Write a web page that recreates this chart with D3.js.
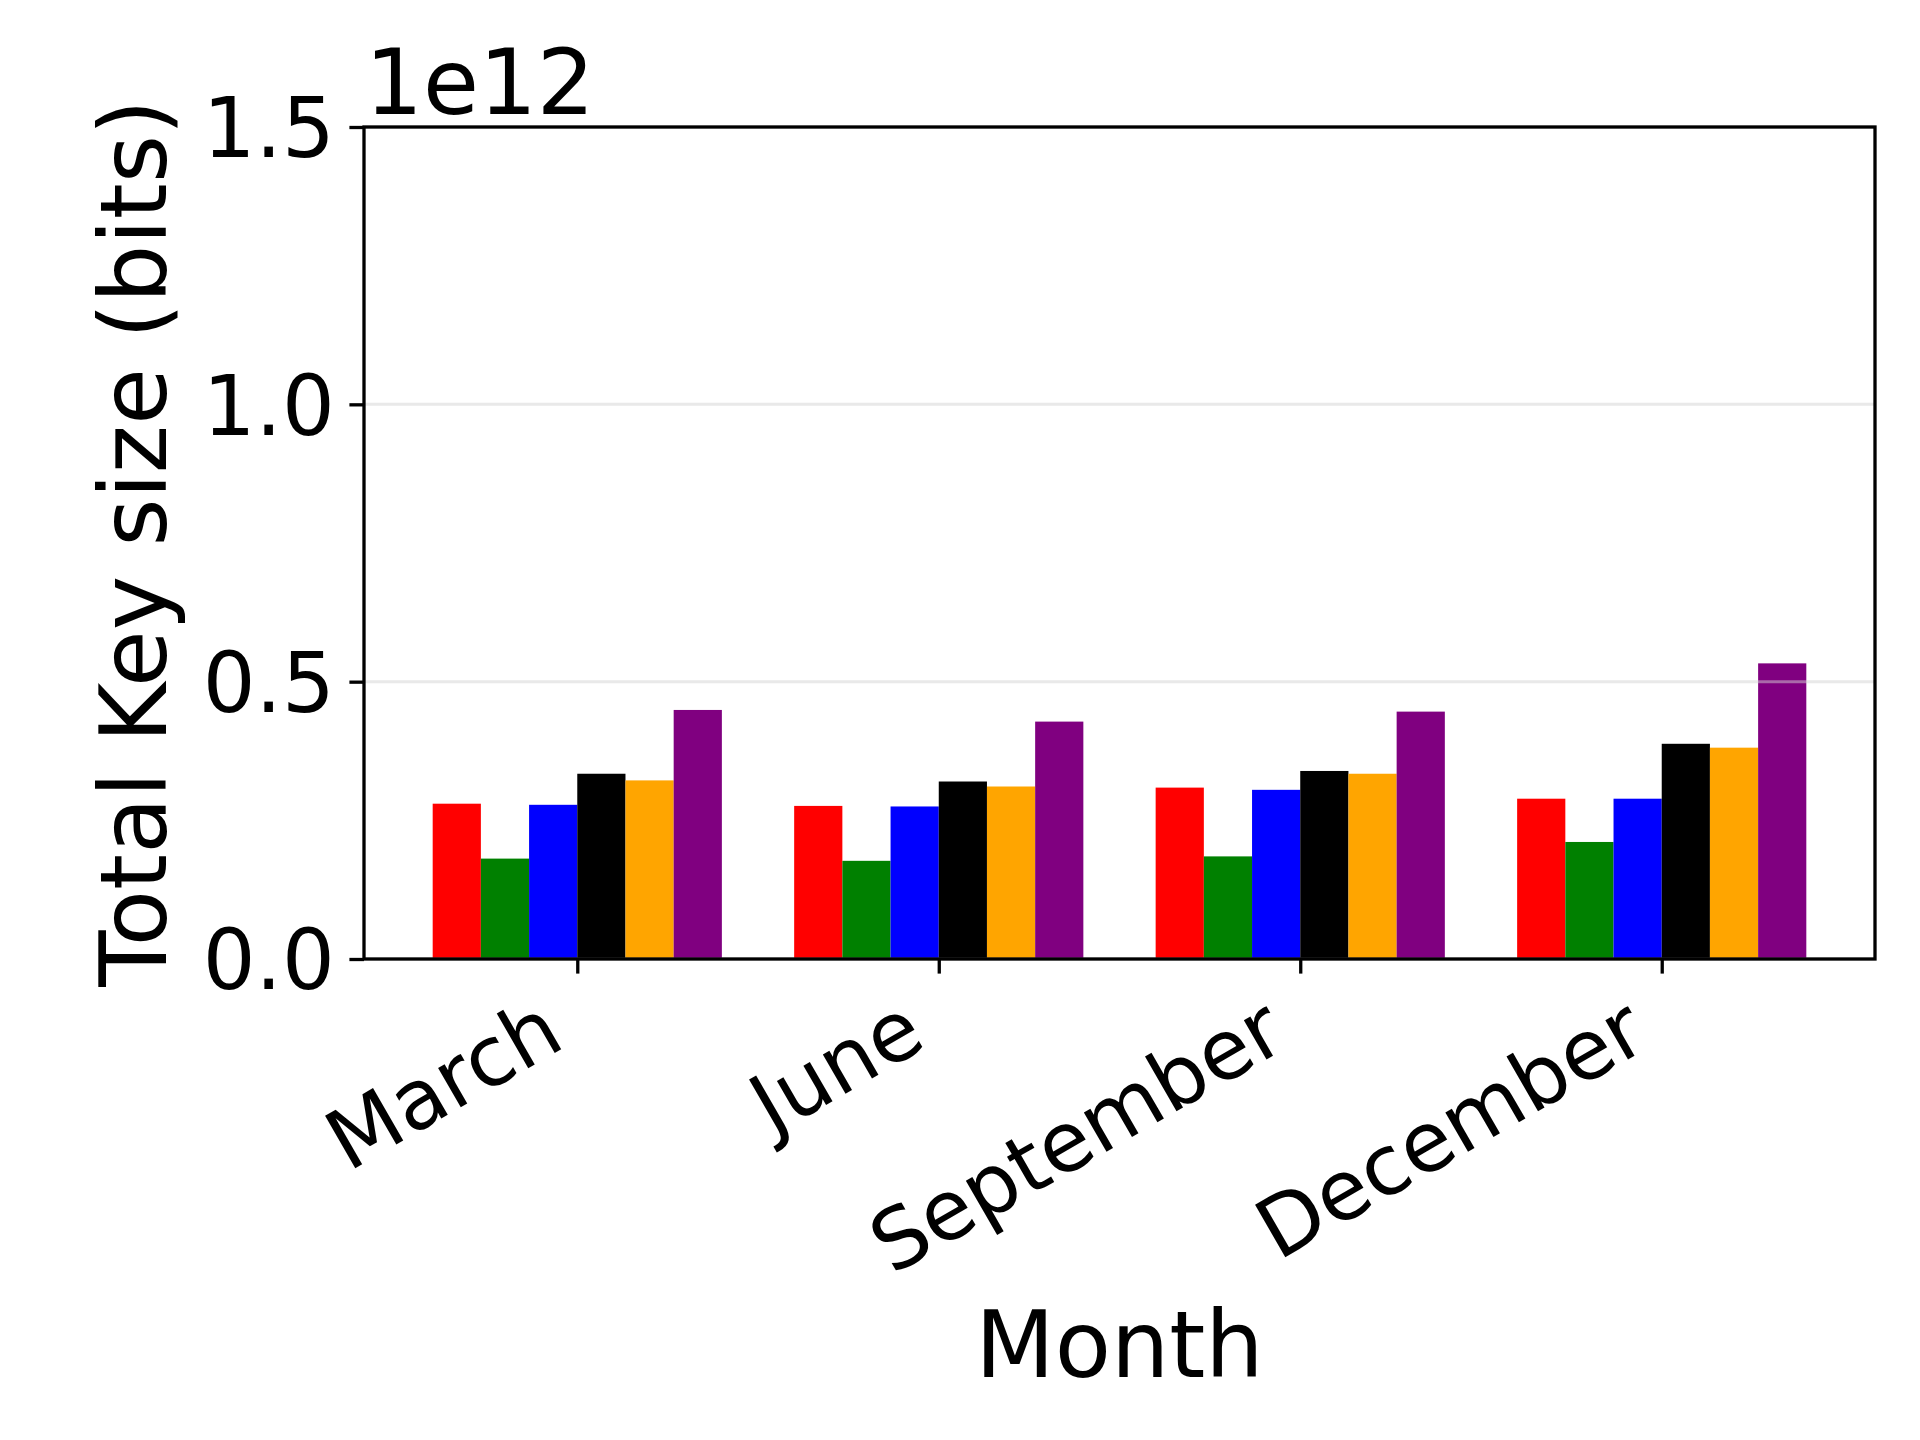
<!DOCTYPE html>
<html>
<head>
<meta charset="utf-8">
<script src="https://cdn.jsdelivr.net/npm/d3@7"></script>
<style>
  html, body { margin: 0; padding: 0; background: #fff; }
  svg { display: block; font-family: "DejaVu Sans", sans-serif; }
</style>
</head>
<body>
<svg id="chart" width="1920" height="1440"></svg>
<script>
// ---- data ----
const months = ["March", "June", "September", "December"];
const seriesNames = ["Series 1", "Series 2", "Series 3", "Series 4", "Series 5", "Series 6"];
const seriesColors = ["#ff0000", "#008000", "#0000ff", "#000000", "#ffa500", "#800080"];
// values in units of 1e12 bits, per series, per month
const series1 = [0.280, 0.276, 0.309, 0.289];
const series2 = [0.181, 0.177, 0.185, 0.211];
const series3 = [0.278, 0.275, 0.305, 0.289];
const series4 = [0.334, 0.320, 0.339, 0.388];
const series5 = [0.322, 0.311, 0.334, 0.381];
const series6 = [0.449, 0.428, 0.446, 0.533];
const seriesValues = [series1, series2, series3, series4, series5, series6];
const yTicks = [0.0, 0.5, 1.0, 1.5];
const yMax = 1.5;
const offsetLabel = "1e12";
const xLabel = "Month";
const yLabel = "Total Key size (bits)";

// ---- layout ----
const L = 364, R = 1875, T = 127, B = 959;
const svg = d3.select("#chart");
svg.append("rect").attr("width", 1920).attr("height", 1440).attr("fill", "#fff");

const nS = seriesValues.length;
const groupW = 0.8;
const barW = groupW / nS;
const marg = (months.length - 1 + groupW) * 0.05;
const x = d3.scaleLinear()
  .domain([-groupW / 2 - marg, months.length - 1 + groupW / 2 + marg])
  .range([L, R]);
const y = d3.scaleLinear().domain([0, yMax]).range([B, T]);

// bars
const barData = [];
seriesValues.forEach((vals, si) => {
  vals.forEach((v, mi) => barData.push({ si, mi, v }));
});
svg.append("g").selectAll("rect").data(barData).join("rect")
  .attr("x", d => x(d.mi - groupW / 2 + d.si * barW))
  .attr("width", d => x(barW) - x(0))
  .attr("y", d => y(d.v))
  .attr("height", d => y(0) - y(d.v))
  .attr("fill", d => seriesColors[d.si]);

// grid (drawn above bars)
svg.append("g").selectAll("line").data(yTicks).join("line")
  .attr("x1", L).attr("x2", R)
  .attr("y1", d => y(d)).attr("y2", d => y(d))
  .attr("stroke", "#d3d3d3").attr("stroke-opacity", 0.5).attr("stroke-width", 3);

// y axis
const yAxis = d3.axisLeft(y).tickValues(yTicks).tickFormat(d3.format(".1f"))
  .tickSize(14.6).tickPadding(14.6);
const gy = svg.append("g").attr("transform", `translate(${L},0)`).call(yAxis);
gy.select(".domain").remove();
gy.selectAll(".tick line").attr("stroke", "#000").attr("stroke-width", 3.3);
gy.selectAll(".tick text").attr("font-size", 83).attr("fill", "#000")
  .attr("font-family", "DejaVu Sans").attr("dy", "0.36em");

// x axis
const xAxis = d3.axisBottom(x).tickValues(d3.range(months.length))
  .tickFormat(i => months[i]).tickSize(14.6).tickPadding(0);
const gx = svg.append("g").attr("transform", `translate(0,${B})`).call(xAxis);
gx.select(".domain").remove();
gx.selectAll(".tick line").attr("stroke", "#000").attr("stroke-width", 3.3);
gx.selectAll(".tick text").remove();

// rotated x tick labels (right edge of rotated bbox at tick, top below pad)
const svgRect = document.getElementById("chart").getBoundingClientRect();
months.forEach((m, i) => {
  const g = svg.append("g");
  const t = g.append("text").text(m)
    .attr("font-size", 83).attr("text-anchor", "end")
    .attr("fill", "#000")
    .attr("transform", "rotate(-30)");
  const r = t.node().getBoundingClientRect();
  const dx = x(i) - (r.right - svgRect.left);
  const dy = (B + 20) - (r.top - svgRect.top);
  g.attr("transform", `translate(${dx},${dy})`);
});

// spines
svg.append("rect").attr("x", L).attr("y", T)
  .attr("width", R - L).attr("height", B - T)
  .attr("fill", "none").attr("stroke", "#000").attr("stroke-width", 3.3);

// offset text
svg.append("text").attr("x", 365).attr("y", 114)
  .attr("font-size", 91).attr("fill", "#000").text(offsetLabel);

// axis labels
svg.append("text").attr("x", (L + R) / 2).attr("y", 1377)
  .attr("text-anchor", "middle").attr("font-size", 92).attr("fill", "#000")
  .text(xLabel);
svg.append("text")
  .attr("transform", `translate(166,${(T + B) / 2}) rotate(-90)`)
  .attr("text-anchor", "middle").attr("font-size", 92).attr("fill", "#000")
  .text(yLabel);
</script>
</body>
</html>
